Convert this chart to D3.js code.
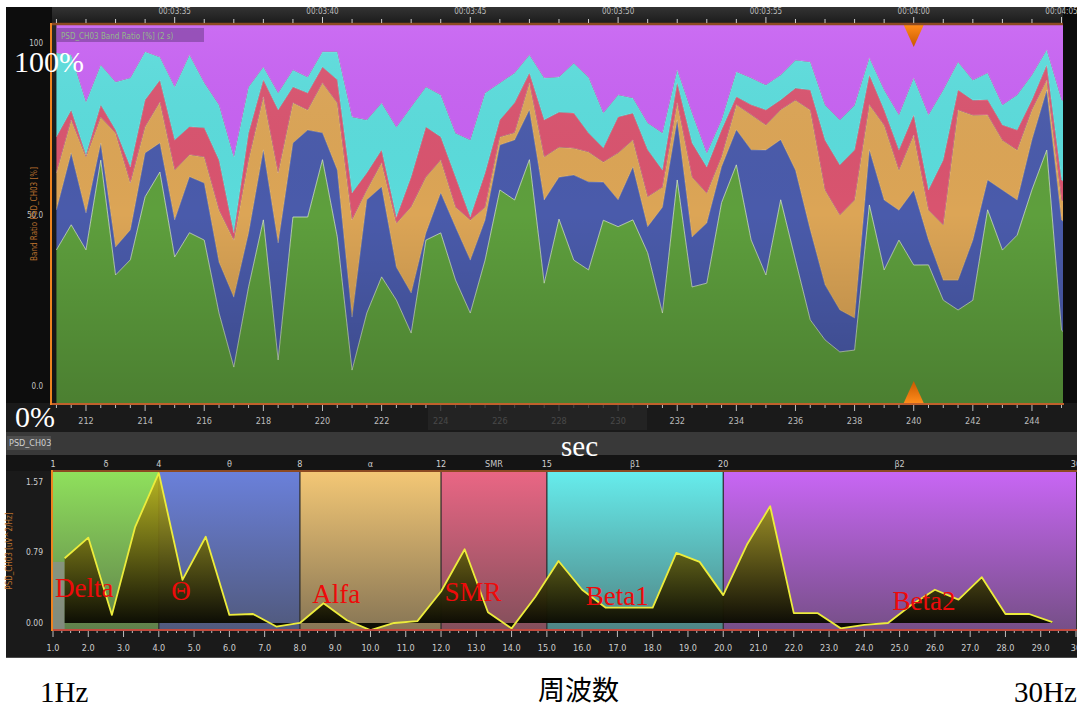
<!DOCTYPE html>
<html>
<head>
<meta charset="utf-8">
<title>PSD_CH03</title>
<script src="https://cdn.jsdelivr.net/npm/d3@7/dist/d3.min.js"></script>
<style>
  html, body { margin: 0; padding: 0; background: #ffffff; overflow: hidden; }
  svg { display: block; }
  .ax { font-family: "Liberation Sans Narrow", "DejaVu Sans Condensed", "Liberation Sans", sans-serif; }
  .note { font-family: "Liberation Serif", "DejaVu Serif", serif; }
  .cjk { font-family: "Noto Sans CJK JP", "Noto Sans CJK SC", sans-serif; }
</style>
</head>
<body>
<svg id="chart" width="1077" height="709"></svg>
<script>
// ---------- band-ratio history (top panel) ----------
const times = [211,211.5,212,212.5,213,213.5,214,214.5,215,215.5,
  216,216.5,217,217.5,218,218.5,219,219.5,220,220.5,
  221,221.5,222,222.5,223,223.5,224,224.5,225,225.5,
  226,226.5,227,227.5,228,228.5,229,229.5,230,230.5,
  231,231.5,232,232.5,233,233.5,234,234.5,235,235.5,
  236,236.5,237,237.5,238,238.5,239,239.5,240,240.5,
  241,241.5,242,242.5,243,243.5,244,244.5,245,245.5];

// relative power of each band [%]
const delta = [40.5,47.1,40.5,64.3,33.9,37.8,54.5,61.1,38.6,45.0,
  43.1,23.8,9.5,30.7,48.4,11.4,49.2,49.2,64.3,43.9,
  8.7,23.8,33.3,27.2,18.5,43.1,45.0,32.5,23.8,37.8,
  56.3,53.7,64.3,31.7,48.7,37.8,35.2,48.4,46.6,48.4,
  39.7,23.8,59.0,30.7,31.7,52.9,63.0,43.1,33.9,53.7,
  37.8,22.0,16.7,13.5,14.0,52.4,35.2,43.1,36.5,36.5,
  27.2,24.6,27.2,51.1,40.5,44.4,56.3,66.9,19.3,15.3];
const theta = [10.6,19.0,9.8,4.5,7.4,7.9,11.6,7.7,9.8,14.8,
  15.1,13.5,18.5,14.3,18.5,31.0,19.6,23.0,7.1,17.7,
  14.0,29.9,23.8,8.7,10.6,1.9,10.6,14.0,14.0,10.6,
  11.9,15.9,13.2,22.0,11.1,22.5,23.3,10.1,7.1,14.0,
  6.9,28.0,15.9,13.2,15.9,9.5,9.3,23.8,33.1,15.9,
  23.8,23.8,14.6,11.1,8.5,14.6,18.5,7.9,19.8,6.6,
  5.3,7.9,15.9,7.9,15.9,9.3,13.2,15.9,29.1,30.4];
const alpha = [9.8,8.7,14.8,6.9,30.2,12.4,6.9,10.8,13.2,5.8,
  6.9,13.8,15.1,19.3,14.0,18.5,10.6,5.3,13.2,17.7,
  25.7,2.6,6.3,11.6,22.8,14.8,8.7,5.3,10.6,3.4,
  2.1,1.9,7.1,11.4,7.9,7.1,7.9,5.3,12.4,7.1,
  7.9,5.3,4.5,15.9,7.9,2.6,6.6,9.3,6.6,7.9,
  18.5,31.7,25.1,25.1,31.2,11.9,19.8,10.6,14.6,7.9,
  14.6,45.0,33.1,17.2,13.2,13.2,7.9,2.6,5.3,5.3];
const smr = [9.5,2.6,0.5,3.2,0.8,4.2,7.1,5.8,7.9,7.4,
  7.7,13.2,1.9,7.1,4.5,16.7,4.2,4.5,4.2,6.1,
  7.1,4.5,3.4,1.6,7.9,13.2,6.1,7.9,0.8,9.0,
  4.5,7.9,2.6,9.8,9.3,9.3,5.0,3.7,9.5,7.1,
  12.4,4.5,5.3,9.0,6.9,7.1,2.1,2.6,4.0,2.6,
  3.2,5.3,13.2,13.2,13.2,7.9,4.0,5.3,5.3,5.3,
  17.2,5.3,4.0,4.0,4.0,5.3,2.6,4.0,5.3,5.3];
const beta1 = [22.2,14.6,14.0,10.6,12.7,23.5,12.7,6.1,14.0,19.0,
  11.9,14.6,20.1,12.2,3.4,4.5,4.5,4.2,4.0,7.4,
  20.1,14.0,12.4,23.8,18.5,10.6,11.1,11.6,20.4,21.2,
  9.8,7.9,4.8,11.1,9.3,13.2,14.8,9.3,5.8,4.0,
  7.1,9.8,3.4,7.9,3.7,2.6,6.6,7.1,6.6,6.6,
  7.4,7.4,9.3,11.9,11.9,4.5,5.3,9.3,9.8,19.8,
  18.5,7.4,5.3,7.1,5.3,9.3,6.6,4.0,21.2,21.2];
const beta2 = [7.4,7.9,20.4,10.6,15.1,14.0,7.1,8.5,16.4,7.9,
  15.3,21.2,34.9,16.4,11.1,18.0,11.9,13.8,7.1,7.1,
  24.3,25.1,20.6,27.0,21.7,16.4,18.5,28.6,30.4,18.0,
  15.3,12.7,7.9,14.0,13.8,10.1,13.8,23.3,18.5,19.3,
  25.9,28.6,11.9,23.3,33.9,25.1,12.4,14.0,15.9,13.2,
  9.3,9.8,21.2,25.1,21.2,8.7,17.2,23.8,14.0,23.8,
  17.2,9.8,14.6,12.7,21.2,18.5,13.2,6.6,19.8,22.5];

const bandKeys = ["delta", "theta", "alpha", "smr", "beta1", "beta2"];
const bandSeries = { delta, theta, alpha, smr, beta1, beta2 };
const layerColors = ["#5e9f3d", "#4a5bab", "#dca556", "#d9546f", "#5bdcdc", "#c762f2"];

const timeTicks = [212,214,216,218,220,222,224,226,228,230,232,234,236,238,240,242,244];
const clockTicks = [215,220,225,230,235,240,245];
const clockLabels = ["00:03:35","00:03:40","00:03:45","00:03:50","00:03:55","00:04:00","00:04:05"];
const ratioTicks = [0, 50, 100];
const ratioLabels = ["0.0", "50.0", "100"];
const cursorTime = 240;

// ---------- spectrum (bottom panel) ----------
const freqs = [1.33,2.0,2.67,3.33,4.0,4.67,5.33,6.0,6.67,7.33,
  8.0,8.67,9.33,10.0,10.67,11.33,12.0,12.67,13.33,14.0,
  14.67,15.33,16.0,16.67,17.33,18.0,18.67,19.33,20.0,20.67,
  21.33,22.0,22.67,23.33,24.0,24.67,25.33,26.0,26.67,27.33,
  28.0,28.67,29.33];
const psd = [0.72,0.95,0.09,1.07,1.67,0.48,0.96,0.09,0.10,-0.04,
  0.0,0.22,0.03,-0.08,0.0,0.02,0.35,0.82,0.12,-0.06,
  0.29,0.69,0.37,0.17,0.17,0.17,0.78,0.68,0.31,0.87,
  1.30,0.11,0.11,-0.06,-0.02,0.0,0.20,0.37,0.26,0.51,
  0.10,0.10,0.01];

const bandEdges = [1, 4, 8, 12, 15, 20, 30];
const bandSymbols = ["δ", "θ", "α", "SMR", "β1", "β2"];
const bandNames = ["Delta", "Θ", "Alfa", "SMR", "Beta1", "Beta2"];
const bandFills = ["#8fe05c", "#6a80da", "#f3c775", "#e96684", "#66ecec", "#c866f4"];
const freqTicks = [1,2,3,4,5,6,7,8,9,10,11,12,13,14,15,16,17,18,19,20,21,22,23,24,25,26,27,28,29,30];
const psdTicks = [0, 0.79, 1.57];

// ---------- layout ----------
const W = 1077, H = 709;
const TP = { x0: 52, x1: 1063, y0: 25, y1: 403 };   // top plot
const BP = { x0: 53, x1: 1077, y0: 472, y1: 629 };  // bottom plot

const svg = d3.select("#chart");
const defs = svg.append("defs");

function vGrad(id, y1, y2, stops) {
  const g = defs.append("linearGradient").attr("id", id)
    .attr("gradientUnits", "userSpaceOnUse")
    .attr("x1", 0).attr("x2", 0).attr("y1", y1).attr("y2", y2);
  stops.forEach(s => g.append("stop").attr("offset", s[0])
    .attr("stop-color", s[1]).attr("stop-opacity", s[2]));
}
vGrad("topShade", TP.y0, TP.y1, [[0, "#ffffff", 0.07], [0.5, "#000000", 0.0], [1, "#000000", 0.2]]);
vGrad("bandShade", BP.y0, BP.y1, [[0, "#404040", 0.0], [1, "#404040", 0.6]]);
vGrad("psdFill", BP.y0, 623, [[0, "#bdb41e", 0.92], [0.45, "#6f6a12", 0.94], [1, "#0b0b02", 0.97]]);
vGrad("barGrad", 7, 23, [[0, "#333333", 1], [1, "#1c1c1c", 1]]);
vGrad("markDown", TP.y0, TP.y0 + 22, [[0, "#ff8c1a", 1], [1, "#c85800", 1]]);
vGrad("markUp", TP.y1 - 22, TP.y1, [[0, "#c85800", 1], [1, "#ff8c1a", 1]]);

defs.append("clipPath").attr("id", "clipTop").append("rect")
  .attr("x", TP.x0).attr("y", TP.y0).attr("width", TP.x1 - TP.x0).attr("height", TP.y1 - TP.y0);
defs.append("clipPath").attr("id", "clipBot").append("rect")
  .attr("x", BP.x0).attr("y", BP.y0).attr("width", BP.x1 - BP.x0).attr("height", BP.y1 - BP.y0);

// page + dark panel
svg.append("rect").attr("width", W).attr("height", H).attr("fill", "#ffffff");
svg.append("rect").attr("x", 6).attr("y", 7).attr("width", W - 6).attr("height", 651).attr("fill", "#1a1a1a");
svg.append("rect").attr("x", 6).attr("y", 7).attr("width", TP.x0 - 6).attr("height", TP.y1 - 7).attr("fill", "#0d0d0d");
svg.append("rect").attr("x", TP.x1).attr("y", 7).attr("width", W - TP.x1).attr("height", TP.y1 - 7).attr("fill", "#0c0c0c");
svg.append("rect").attr("x", TP.x0).attr("y", 7).attr("width", TP.x1 - TP.x0).attr("height", 16).attr("fill", "url(#barGrad)");

// ---------- top panel: stacked band ratio ----------
const xT = d3.scaleLinear().domain([210.85, 245.05]).range([TP.x0, TP.x1]);
const yT = d3.scaleLinear().domain([0, 1]).range([TP.y1, TP.y0]);

const rows = times.map((t, i) => {
  const r = { t };
  bandKeys.forEach(k => { r[k] = bandSeries[k][i]; });
  return r;
});
const stacked = d3.stack().keys(bandKeys).offset(d3.stackOffsetExpand)(rows);

const gTop = svg.append("g").attr("clip-path", "url(#clipTop)");
const area = d3.area().x(d => xT(d.data.t)).y0(d => yT(d[0])).y1(d => yT(d[1]));
gTop.selectAll("path.layer").data(stacked).join("path")
  .attr("class", "layer")
  .attr("d", area)
  .attr("fill", (d, i) => layerColors[i]);
// pale outline along the top of each layer
const edge = d3.line().x(d => xT(d.data.t)).y(d => yT(d[1]));
gTop.selectAll("path.edge").data(stacked.slice(0, 5)).join("path")
  .attr("class", "edge")
  .attr("d", edge)
  .attr("fill", "none")
  .attr("stroke", (d, i) => i === 0 ? "#d9eec6" : "#ffffff")
  .attr("stroke-opacity", (d, i) => i === 0 ? 0.75 : 0.25)
  .attr("stroke-width", 1);
gTop.append("rect").attr("x", TP.x0).attr("y", TP.y0)
  .attr("width", TP.x1 - TP.x0).attr("height", TP.y1 - TP.y0)
  .attr("fill", "url(#topShade)");

// series legend
gTop.append("rect").attr("x", 57).attr("y", 28).attr("width", 147).attr("height", 14)
  .attr("fill", "#6e3c8a").attr("fill-opacity", 0.55);
gTop.append("text").attr("class", "ax").attr("x", 61).attr("y", 38.5)
  .attr("font-size", 8).attr("fill", "#93b98a").text("PSD_CH03 Band Ratio  [%]  (2 s)");

// cursor markers
const cx = xT(cursorTime);
svg.append("path").attr("d", `M${cx - 10},${TP.y0}L${cx + 10},${TP.y0}L${cx},${TP.y0 + 22}Z`).attr("fill", "url(#markDown)");
svg.append("path").attr("d", `M${cx - 10},${TP.y1}L${cx + 10},${TP.y1}L${cx},${TP.y1 - 22}Z`).attr("fill", "url(#markUp)");

// borders
svg.append("line").attr("x1", TP.x0).attr("x2", TP.x1).attr("y1", TP.y0 - 1).attr("y2", TP.y0 - 1)
  .attr("stroke", "#8c4a22").attr("stroke-width", 2.5);
svg.append("line").attr("x1", TP.x0).attr("x2", TP.x1 + 1).attr("y1", TP.y1 + 1).attr("y2", TP.y1 + 1)
  .attr("stroke", "#c0602c").attr("stroke-width", 2);
svg.append("line").attr("x1", TP.x0 - 1).attr("x2", TP.x0 - 1).attr("y1", TP.y0 - 2).attr("y2", TP.y1 + 2)
  .attr("stroke", "#ee8420").attr("stroke-width", 2);

// clock ticks (top ruler)
const secTicks = d3.range(211, 246, 1);
svg.append("g").selectAll("line").data(secTicks).join("line")
  .attr("x1", d => xT(d)).attr("x2", d => xT(d))
  .attr("y1", d => clockTicks.includes(d) ? 17 : 19).attr("y2", 23)
  .attr("stroke", "#cfcfcf").attr("stroke-width", 1);
svg.append("g").selectAll("text").data(clockTicks).join("text")
  .attr("class", "ax").attr("x", d => xT(d)).attr("y", 14)
  .attr("text-anchor", "middle").attr("font-size", 8).attr("fill", "#bdbdbd")
  .text((d, i) => clockLabels[i]);

// time axis (bottom of top panel)
const halfTicks = d3.range(211, 245.1, 0.5);
svg.append("g").selectAll("line").data(halfTicks).join("line")
  .attr("x1", d => xT(d)).attr("x2", d => xT(d))
  .attr("y1", TP.y1 + 2).attr("y2", d => timeTicks.includes(d) ? TP.y1 + 8 : TP.y1 + 5)
  .attr("stroke", "#bdbdbd").attr("stroke-width", 1);
svg.append("g").selectAll("text").data(timeTicks).join("text")
  .attr("class", "ax").attr("x", d => xT(d)).attr("y", 424)
  .attr("text-anchor", "middle").attr("font-size", 9).attr("fill", "#bcbcbc")
  .text(d => d);
svg.append("rect").attr("x", 428).attr("y", 405).attr("width", 219).attr("height", 25)
  .attr("fill", "#272727").attr("fill-opacity", 0.78);

// ratio axis labels (kept inside the plot height at the ends)
svg.append("g").selectAll("text").data(ratioTicks).join("text")
  .attr("class", "ax").attr("x", 43)
  .attr("y", d => yT(d / 100) + (d === 100 ? 21 : d === 0 ? -14 : 4))
  .attr("text-anchor", "end").attr("font-size", 8).attr("fill", "#c4c4c4")
  .text((d, i) => ratioLabels[i]);
svg.append("text").attr("class", "ax")
  .attr("transform", `translate(37,${yT(0.5)}) rotate(-90)`)
  .attr("text-anchor", "middle").attr("font-size", 8).attr("fill", "#b8702e")
  .text("Band Ratio PSD_CH03 [%]");

// ---------- middle strip ----------
svg.append("rect").attr("x", 6).attr("y", 432).attr("width", W - 6).attr("height", 23).attr("fill", "#393939");
svg.append("rect").attr("x", 7).attr("y", 436).attr("width", 44).attr("height", 14).attr("fill", "#4e4e4e");
svg.append("text").attr("class", "ax").attr("x", 9).attr("y", 446)
  .attr("font-size", 9).attr("fill", "#d0d0d0").text("PSD_CH03");
svg.append("rect").attr("x", 6).attr("y", 455).attr("width", W - 6).attr("height", 16).attr("fill", "#141414");

// ---------- bottom panel: spectrum ----------
const xB = d3.scaleLinear().domain([1, 30]).range([BP.x0, 1076]);
const yB = d3.scaleLinear().domain([-0.067, 1.68]).range([BP.y1, BP.y0]);

const gBot = svg.append("g").attr("clip-path", "url(#clipBot)");
const bands = bandFills.map((c, i) => ({ a: bandEdges[i], b: bandEdges[i + 1], c }));
gBot.selectAll("rect.band").data(bands).join("rect")
  .attr("class", "band")
  .attr("x", d => xB(d.a)).attr("width", d => xB(d.b) - xB(d.a))
  .attr("y", BP.y0).attr("height", BP.y1 - BP.y0)
  .attr("fill", d => d.c);
gBot.append("rect").attr("x", BP.x0).attr("y", BP.y0)
  .attr("width", BP.x1 - BP.x0).attr("height", BP.y1 - BP.y0)
  .attr("fill", "url(#bandShade)");
gBot.selectAll("line.sep").data(bandEdges.slice(1, 6)).join("line")
  .attr("class", "sep")
  .attr("x1", d => xB(d)).attr("x2", d => xB(d))
  .attr("y1", BP.y0).attr("y2", BP.y1)
  .attr("stroke", "#2c2c2c").attr("stroke-width", 1.2);

// first (excluded) bin
gBot.append("rect").attr("x", xB(1)).attr("width", xB(freqs[0]) - xB(1))
  .attr("y", yB(0.68)).attr("height", BP.y1 - yB(0.68))
  .attr("fill", "#8d8d8d").attr("fill-opacity", 0.75);

const spec = freqs.map((f, i) => ({ f, v: psd[i] }));
gBot.append("path").datum(spec)
  .attr("d", d3.area().x(d => xB(d.f)).y0(yB(0)).y1(d => yB(d.v)))
  .attr("fill", "url(#psdFill)");
gBot.append("path").datum(spec)
  .attr("d", d3.line().x(d => xB(d.f)).y(d => yB(d.v)))
  .attr("fill", "none").attr("stroke", "#ecec3c").attr("stroke-width", 1.8)
  .attr("stroke-linejoin", "round");

// band annotations
const tagPos = [[1.06, 0.29], [4.35, 0.26], [8.35, 0.22], [12.1, 0.25], [16.1, 0.2], [24.8, 0.145]];
svg.append("g").selectAll("text").data(bandNames).join("text")
  .attr("class", "note")
  .attr("x", (d, i) => xB(tagPos[i][0])).attr("y", (d, i) => yB(tagPos[i][1]))
  .attr("font-size", 27).attr("fill", "#ee0a0a").text(d => d);

// bottom borders
svg.append("line").attr("x1", BP.x0).attr("x2", W).attr("y1", BP.y0 - 1).attr("y2", BP.y0 - 1)
  .attr("stroke", "#8c4a22").attr("stroke-width", 2);
svg.append("line").attr("x1", BP.x0).attr("x2", W).attr("y1", BP.y1 + 1).attr("y2", BP.y1 + 1)
  .attr("stroke", "#c24a3e").attr("stroke-width", 2);
svg.append("line").attr("x1", BP.x0 - 1).attr("x2", BP.x0 - 1).attr("y1", BP.y0 - 2).attr("y2", BP.y1 + 2)
  .attr("stroke", "#ee8420").attr("stroke-width", 2);

// band header axis
const edgeLabels = bandEdges.map(String);
svg.append("g").selectAll("text").data(bandEdges).join("text")
  .attr("class", "ax").attr("x", d => xB(d)).attr("y", 467)
  .attr("text-anchor", "middle").attr("font-size", 9).attr("fill", "#d0d0d0")
  .text((d, i) => edgeLabels[i]);
svg.append("g").selectAll("text").data(bands).join("text")
  .attr("class", "ax").attr("x", d => xB((d.a + d.b) / 2)).attr("y", 467)
  .attr("text-anchor", "middle").attr("font-size", 9).attr("fill", "#c8c8c8")
  .text((d, i) => bandSymbols[i]);

// frequency axis
const fineTicks = d3.range(1, 30.01, 0.25);
svg.append("g").selectAll("line").data(fineTicks).join("line")
  .attr("x1", d => xB(d)).attr("x2", d => xB(d))
  .attr("y1", BP.y1 + 2).attr("y2", d => Number.isInteger(d) ? BP.y1 + 8 : BP.y1 + 4)
  .attr("stroke", "#bdbdbd").attr("stroke-width", 1);
svg.append("g").selectAll("text").data(freqTicks).join("text")
  .attr("class", "ax").attr("x", d => xB(d)).attr("y", 651)
  .attr("text-anchor", "middle").attr("font-size", 9).attr("fill", "#cfcfcf")
  .text(d => d === 30 ? "30" : d.toFixed(1));
svg.append("line").attr("x1", 6).attr("x2", W).attr("y1", 657.5).attr("y2", 657.5)
  .attr("stroke", "#4a4a4a").attr("stroke-width", 1);

// PSD axis
svg.append("g").selectAll("text").data(psdTicks).join("text")
  .attr("class", "ax").attr("x", 43).attr("y", d => yB(d) + 3)
  .attr("text-anchor", "end").attr("font-size", 8.5).attr("fill", "#cfcfcf")
  .text(d => d.toFixed(2));
svg.append("text").attr("class", "ax")
  .attr("transform", `translate(12,${yB(0.8)}) rotate(-90)`)
  .attr("text-anchor", "middle").attr("font-size", 8).attr("fill", "#b8702e")
  .text("PSD_CH03 [uV^2/Hz]");

// ---------- captions ----------
svg.append("text").attr("class", "note").attr("x", 14).attr("y", 72)
  .attr("font-size", 30).attr("fill", "#ffffff").text("100%");
svg.append("text").attr("class", "note").attr("x", 15).attr("y", 427)
  .attr("font-size", 30).attr("fill", "#ffffff").text("0%");
svg.append("text").attr("class", "note").attr("x", 561).attr("y", 456)
  .attr("font-size", 29).attr("fill", "#ffffff").text("sec");
svg.append("text").attr("class", "note").attr("x", 40).attr("y", 702)
  .attr("font-size", 29).attr("fill", "#000000").text("1Hz");
svg.append("text").attr("class", "cjk").attr("x", 538).attr("y", 700)
  .attr("font-size", 27).attr("fill", "#000000").text("周波数");
svg.append("text").attr("class", "note").attr("x", 1014).attr("y", 702)
  .attr("font-size", 29).attr("fill", "#000000").text("30Hz");
</script>
</body>
</html>
